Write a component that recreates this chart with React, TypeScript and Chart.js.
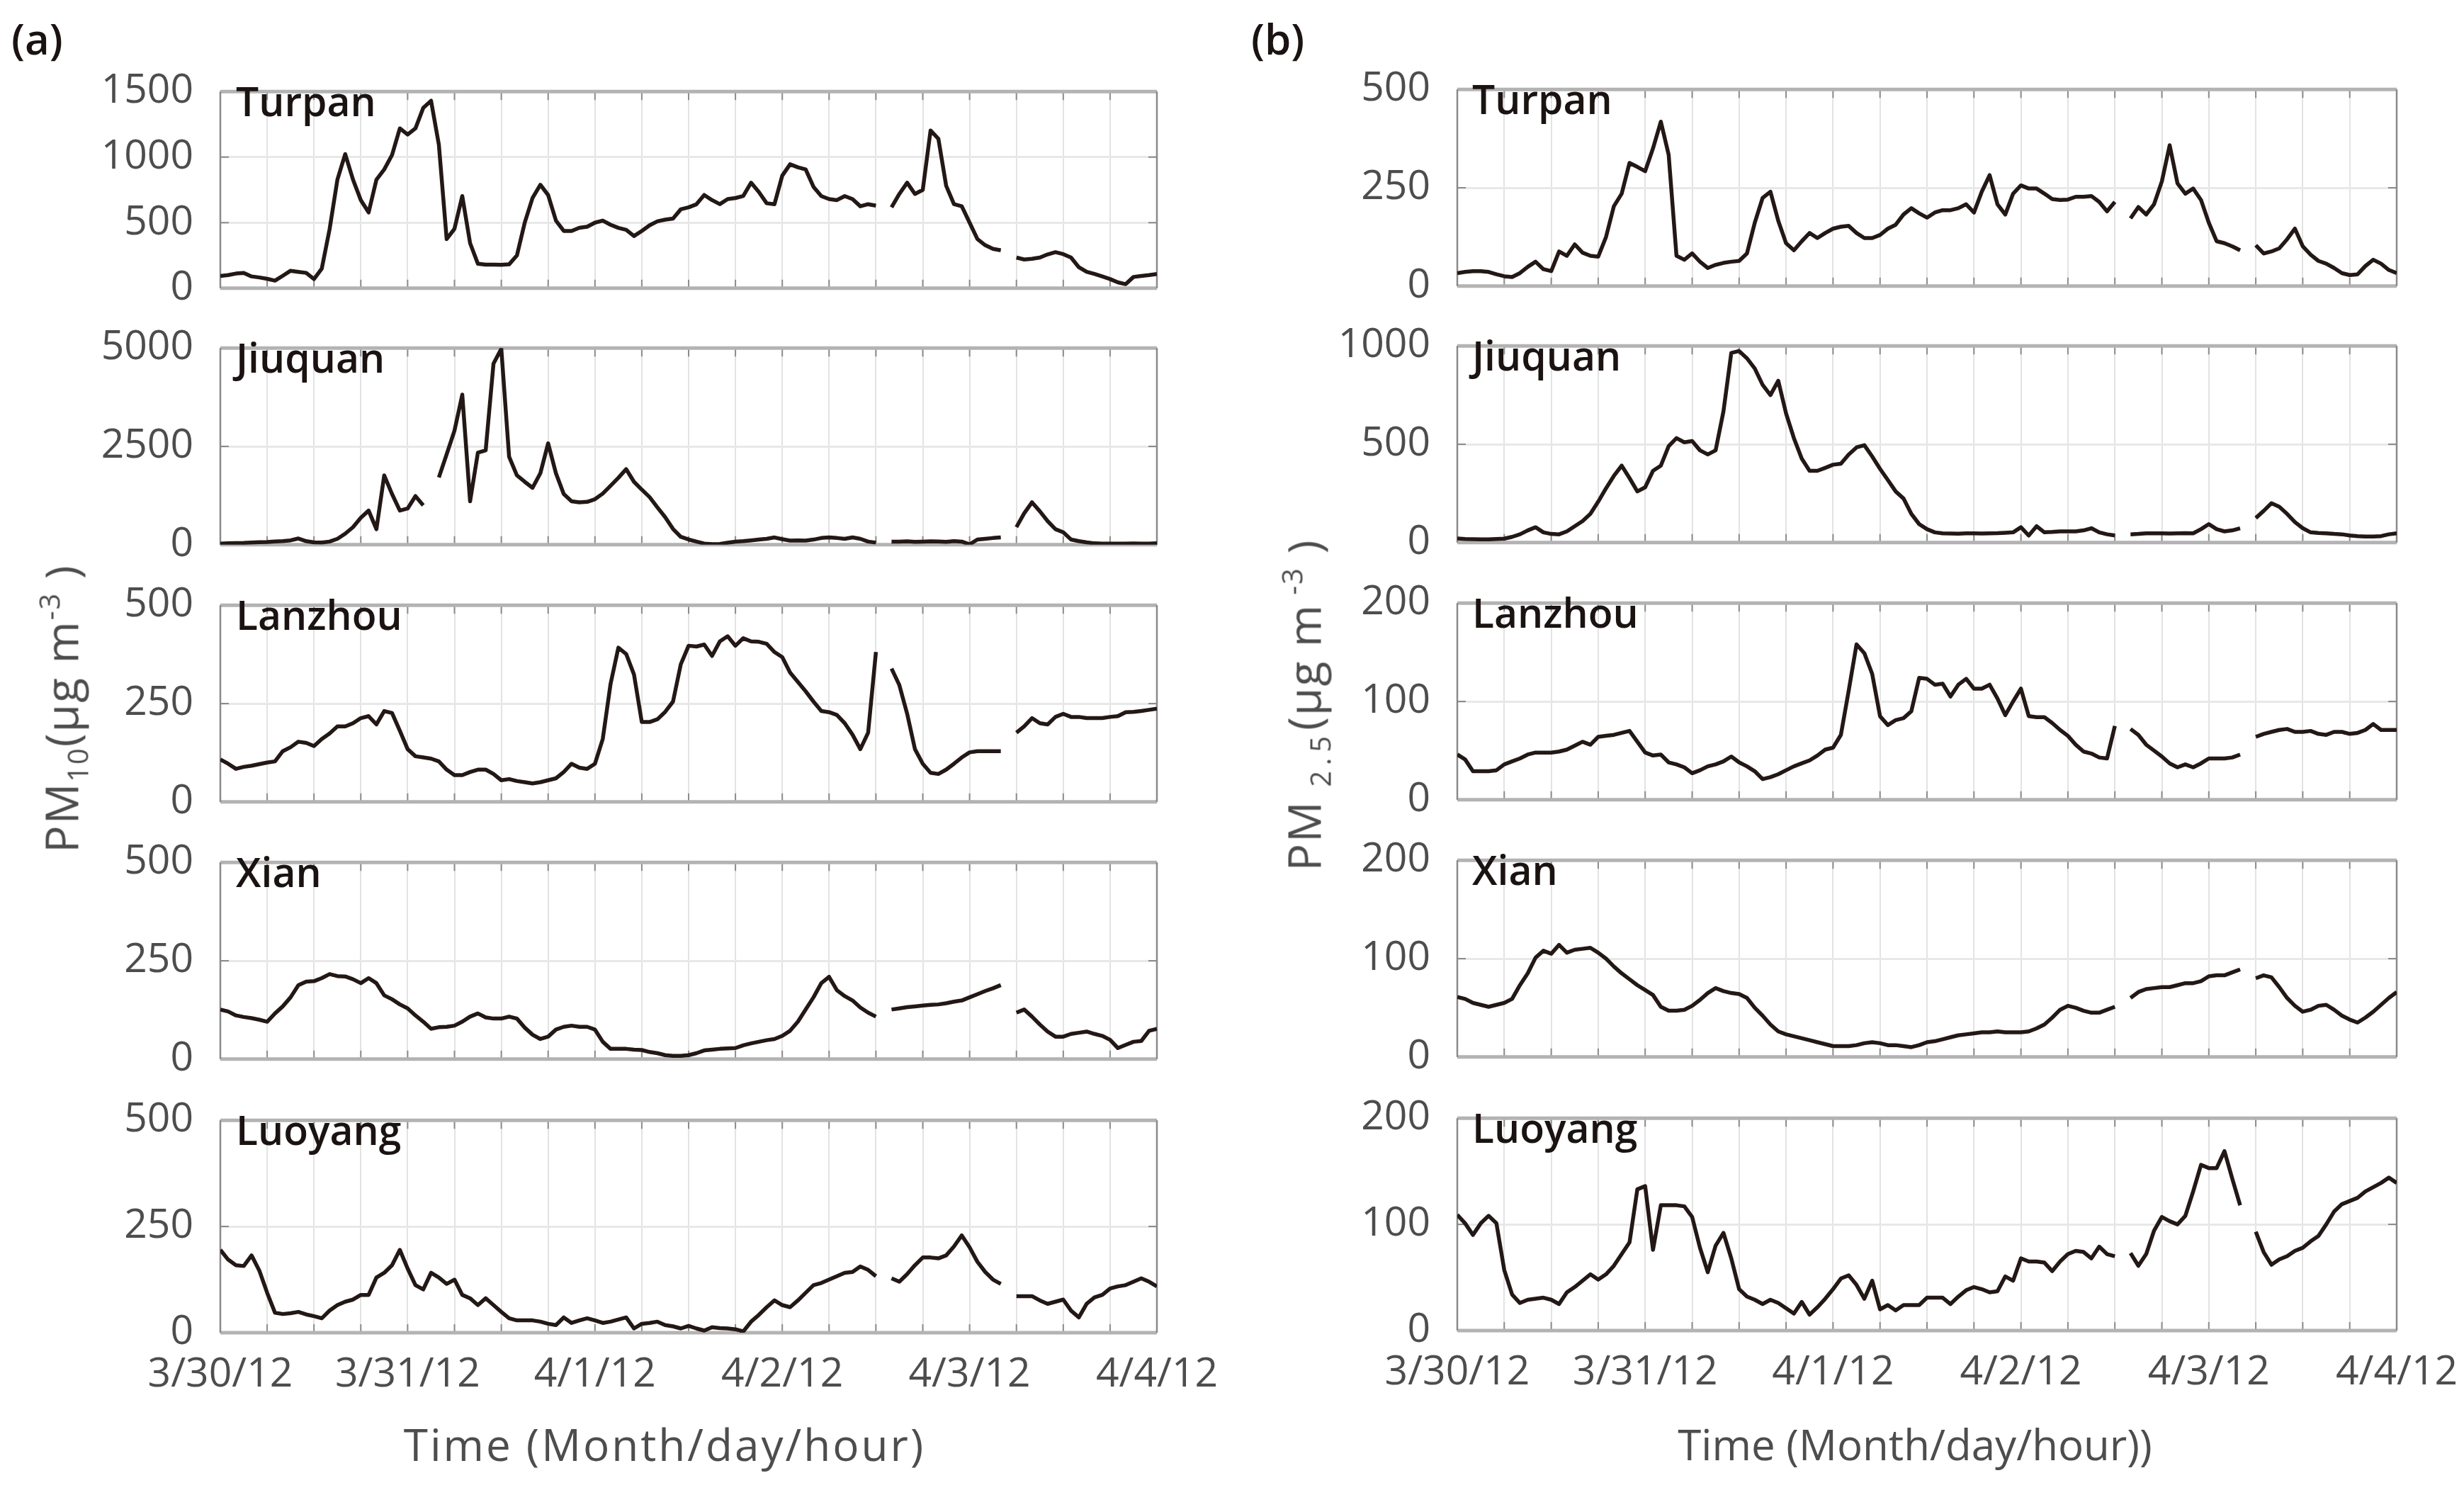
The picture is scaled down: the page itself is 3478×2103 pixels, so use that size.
import React, { useEffect, useRef } from 'react';
import { Chart, registerables } from 'chart.js';

Chart.register(...registerables);

const FONT = "'Open Sans', 'Noto Sans', sans-serif";

// x positions: hours since 3/30/12 00:00
const HOURS = Array.from({ length: 121 }, (_, i) => i);
const DAY_LABELS = ['3/30/12', '3/31/12', '4/1/12', '4/2/12', '4/3/12', '4/4/12'];
const STATIONS = ['Turpan', 'Jiuquan', 'Lanzhou', 'Xian', 'Luoyang'];

// ---------- PM10 (panel a) ----------
const PM10_TURPAN = [94, 100, 112, 117, 90, 82, 72, 58, 95, 133,
  125, 117, 70, 150, 450, 828, 1023, 828, 672, 578,
  828, 906, 1016, 1219, 1172, 1219, 1375, 1430, 1094, 375,
  453, 703, 344, 187, 180, 180, 178, 182, 250, 500,
  688, 789, 711, 516, 437, 437, 461, 469, 500, 516,
  484, 460, 445, 398, 437, 480, 510, 523, 531, 602,
  617, 640, 711, 672, 641, 680, 688, 703, 805, 734,
  648, 641, 859, 945, 922, 906, 773, 703, 680, 672,
  703, 680, 625, 641, 630, null, 617, 719, 805, 719,
  750, 1203, 1140, 781, 641, 625, 500, 375, 328, 300,
  289, null, 234, 219, 225, 234, 258, 275, 260, 234,
  160, 125, 109, 90, 70, 45, 31, 86, 94, 100,
  109];
const PM10_JIUQUAN = [30, 35, 40, 45, 55, 65, 70, 80, 90, 110,
  158, 90, 60, 55, 80, 150, 280, 447, 684, 868,
  395, 1762, 1289, 868, 921, 1236, 1000, null, 1710, 2300,
  2900, 3814, 1105, 2341, 2400, 4603, 4980, 2236, 1762, 1600,
  1447, 1815, 2577, 1815, 1289, 1105, 1078, 1090, 1157, 1300,
  1499, 1700, 1920, 1600, 1400, 1210, 950, 700, 400, 200,
  132, 80, 30, 15, 20, 50, 79, 90, 110, 132,
  150, 184, 140, 105, 110, 105, 130, 170, 184, 170,
  150, 184, 150, 80, 53, null, 79, 79, 85, 75,
  79, 85, 80, 75, 90, 79, 10, 132, 150, 170,
  184, null, 447, 800, 1078, 850, 600, 395, 316, 132,
  90, 60, 35, 30, 30, 28, 30, 32, 30, 30,
  35];
const PM10_LANZHOU = [108, 97, 84, 89, 92, 96, 100, 103, 129, 139,
  153, 150, 142, 160, 174, 192, 192, 200, 213, 218,
  197, 231, 226, 181, 134, 116, 113, 110, 103, 82,
  68, 68, 76, 82, 82, 71, 55, 58, 53, 50,
  47, 50, 55, 60, 76, 97, 87, 84, 97, 160,
  300, 392, 376, 324, 203, 203, 210, 229, 255, 350,
  397, 395, 400, 371, 408, 421, 397, 416, 408, 407,
  402, 381, 368, 329, 305, 281, 255, 231, 228, 221,
  200, 171, 134, 176, 381, null, 339, 297, 224, 134,
  97, 74, 71, 82, 97, 113, 126, 129, 129, 129,
  129, null, 176, 192, 213, 200, 197, 216, 224, 216,
  216, 213, 213, 213, 216, 218, 228, 229, 231, 234,
  237];
const PM10_XIAN = [126, 121, 111, 107, 104, 100, 95, 116, 134, 157,
  188, 197, 198, 206, 216, 211, 210, 203, 193, 206,
  193, 162, 152, 139, 129, 111, 95, 77, 81, 82,
  85, 95, 108, 116, 106, 103, 103, 108, 103, 80,
  62, 51, 57, 75, 82, 85, 82, 82, 75, 44,
  26, 26, 26, 24, 23, 18, 15, 10, 8, 8,
  10, 15, 22, 24, 26, 27, 28, 35, 40, 44,
  48, 51, 59, 72, 95, 126, 157, 193, 209, 175,
  160, 149, 131, 118, 108, null, 126, 129, 132, 134,
  136, 138, 139, 142, 146, 149, 157, 165, 173, 180,
  188, null, 118, 126, 108, 88, 70, 57, 57, 64,
  67, 70, 64, 59, 49, 28, 36, 44, 46, 72,
  77];
const PM10_LUOYANG = [195, 172, 159, 157, 182, 146, 94, 47, 44, 46,
  49, 43, 39, 34, 52, 65, 73, 78, 89, 89,
  130, 141, 159, 195, 151, 112, 102, 141, 130, 115,
  125, 89, 81, 65, 81, 65, 49, 34, 29, 29,
  29, 26, 21, 18, 36, 23, 29, 34, 29, 23,
  26, 31, 36, 10, 21, 23, 26, 18, 15, 10,
  16, 10, 5, 13, 11, 10, 8, 3, 26, 42,
  60, 76, 65, 60, 76, 94, 112, 117, 125, 133,
  141, 143, 156, 148, 133, null, 128, 120, 138, 159,
  177, 177, 175, 182, 203, 229, 201, 167, 143, 125,
  115, null, 86, 86, 86, 76, 68, 73, 78, 52,
  36, 68, 83, 89, 104, 109, 112, 120, 128, 120,
  109];

// ---------- PM2.5 (panel b) ----------
const PM25_TURPAN = [33, 36, 38, 38, 36, 30, 25, 23, 33, 49,
  62, 43, 38, 88, 77, 106, 85, 77, 75, 125,
  203, 235, 313, 303, 292, 350, 418, 334, 77, 67,
  83, 62, 46, 54, 59, 62, 64, 83, 161, 224,
  240, 166, 109, 91, 114, 135, 122, 135, 146, 151,
  153, 135, 122, 122, 130, 146, 156, 182, 198, 185,
  174, 187, 193, 193, 198, 208, 187, 240, 282, 208,
  182, 235, 256, 248, 248, 235, 221, 219, 220, 227,
  227, 229, 214, 190, 214, null, 172, 201, 182, 208,
  266, 358, 261, 235, 248, 219, 161, 114, 109, 101,
  91, null, 104, 83, 88, 96, 119, 146, 101, 80,
  64, 57, 46, 33, 28, 30, 51, 67, 57, 41,
  33];
const PM25_JIUQUAN = [21, 18, 17, 16, 16, 18, 20, 29, 42, 62,
  78, 52, 44, 42, 57, 83, 109, 146, 208, 276,
  339, 391, 328, 260, 281, 365, 391, 490, 531, 510,
  516, 469, 448, 469, 667, 964, 974, 937, 885, 802,
  750, 823, 656, 531, 427, 365, 365, 380, 396, 401,
  448, 484, 495, 438, 375, 318, 260, 224, 146, 94,
  68, 52, 47, 46, 45, 47, 47, 46, 47, 48,
  50, 52, 78, 36, 83, 52, 54, 57, 57, 57,
  62, 73, 52, 42, 36, null, 42, 44, 47, 47,
  47, 46, 47, 48, 47, 68, 94, 68, 57, 62,
  73, null, 125, 161, 200, 182, 146, 104, 73, 52,
  49, 47, 44, 42, 36, 33, 31, 31, 33, 42,
  47];
const PM25_LANZHOU = [46, 41, 29, 29, 29, 30, 36, 39, 42, 46,
  48, 48, 48, 49, 51, 55, 59, 56, 64, 65,
  66, 68, 70, 59, 48, 45, 46, 38, 36, 33,
  27, 30, 34, 36, 39, 44, 38, 34, 29, 21,
  23, 26, 30, 34, 37, 40, 45, 51, 53, 66,
  111, 158, 149, 128, 85, 76, 81, 83, 90, 124,
  123, 117, 118, 105, 117, 123, 113, 113, 117, 103,
  86, 100, 113, 85, 84, 84, 78, 71, 65, 56,
  49, 47, 43, 42, 75, null, 72, 66, 56, 50,
  44, 37, 33, 36, 33, 37, 42, 42, 42, 43,
  46, null, 64, 67, 69, 71, 72, 69, 69, 70,
  67, 66, 69, 69, 67, 68, 71, 77, 71, 71,
  71];
const PM25_XIAN = [61, 59, 55, 53, 51, 53, 55, 59, 73, 85,
  101, 108, 105, 114, 106, 109, 110, 111, 106, 100,
  92, 85, 79, 73, 68, 63, 51, 47, 47, 48,
  52, 58, 65, 70, 67, 65, 64, 60, 50, 42,
  33, 26, 23, 21, 19, 17, 15, 13, 11, 11,
  11, 12, 14, 15, 14, 12, 12, 11, 10, 12,
  15, 16, 18, 20, 22, 23, 24, 25, 25, 26,
  25, 25, 25, 26, 29, 33, 40, 48, 52, 50,
  47, 45, 45, 48, 51, null, 60, 66, 69, 70,
  71, 71, 73, 75, 75, 77, 82, 83, 83, 86,
  89, null, 80, 83, 81, 71, 60, 52, 46, 48,
  52, 53, 48, 42, 38, 35, 40, 46, 53, 60,
  66];
const PM25_LUOYANG = [109, 101, 90, 101, 108, 101, 57, 34, 26, 29,
  30, 31, 29, 25, 36, 41, 47, 53, 48, 53,
  61, 72, 83, 133, 136, 76, 118, 118, 118, 117,
  107, 78, 55, 80, 92, 68, 39, 32, 29, 25,
  29, 26, 21, 16, 27, 15, 22, 30, 39, 49,
  52, 43, 30, 47, 20, 24, 19, 24, 24, 24,
  31, 31, 31, 25, 32, 38, 41, 39, 36, 37,
  51, 47, 68, 65, 65, 64, 56, 65, 72, 75,
  74, 68, 79, 72, 70, null, 73, 61, 72, 94,
  107, 103, 100, 108, 131, 156, 153, 153, 169, 143,
  118, null, 93, 74, 62, 67, 70, 75, 78, 84,
  89, 100, 112, 119, 122, 125, 131, 135, 139, 144,
  139];

const PM10_SERIES = [PM10_TURPAN, PM10_JIUQUAN, PM10_LANZHOU, PM10_XIAN, PM10_LUOYANG];
const PM25_SERIES = [PM25_TURPAN, PM25_JIUQUAN, PM25_LANZHOU, PM25_XIAN, PM25_LUOYANG];
const PM10_MAX = [1500, 5000, 500, 500, 500];
const PM10_STEP = [500, 2500, 250, 250, 250];
const PM25_MAX = [500, 1000, 200, 200, 200];
const PM25_STEP = [250, 500, 100, 100, 100];

// ---------- layout (page pixels) ----------
const LEFT_BOX_X = 311;
const RIGHT_BOX_X = 2057;
const LEFT_BOX_W = 1322;
const RIGHT_BOX_W = 1326;
const BOX_H = 322;
const LEFT_TOPS = [107, 469, 832, 1195, 1559];
const RIGHT_TOPS = [104, 466, 829, 1192, 1556];
const PAD_L = 280;
const PAD_R = 120;
const PAD_T = 50;
const PAD_B = 50;
const PAD_B_LAST = 130;

const LINE_COLOR = '#231815';
const TICK_COLOR = '#4d4d4d';

const framePlugin = {
  id: 'frame',
  beforeDatasetsDraw(chart: any) {
    const { ctx, chartArea, scales } = chart;
    const { left, right, top, bottom } = chartArea;
    ctx.save();
    ctx.strokeStyle = '#8c8c8c';
    ctx.lineWidth = 2;
    ctx.beginPath();
    scales.x.ticks.forEach((t: any) => {
      const x = scales.x.getPixelForValue(t.value);
      ctx.moveTo(x, top);
      ctx.lineTo(x, top + 12);
      ctx.moveTo(x, bottom);
      ctx.lineTo(x, bottom - 12);
    });
    scales.y.ticks.forEach((t: any) => {
      const y = scales.y.getPixelForValue(t.value);
      ctx.moveTo(left, y);
      ctx.lineTo(left + 12, y);
      ctx.moveTo(right, y);
      ctx.lineTo(right - 12, y);
    });
    ctx.stroke();
    ctx.strokeStyle = '#b3b3b3';
    ctx.lineWidth = 5;
    ctx.beginPath();
    ctx.moveTo(left, top);
    ctx.lineTo(right, top);
    ctx.moveTo(left, bottom);
    ctx.lineTo(right, bottom);
    ctx.stroke();
    ctx.strokeStyle = '#8a8a8a';
    ctx.lineWidth = 2.5;
    ctx.beginPath();
    ctx.moveTo(left, top);
    ctx.lineTo(left, bottom);
    ctx.moveTo(right, top);
    ctx.lineTo(right, bottom);
    ctx.stroke();
    ctx.restore();
  },
};

type PanelProps = {
  values: (number | null)[];
  yMax: number;
  yStep: number;
  showX: boolean;
  boxLeft: number;
  boxTop: number;
  boxW: number;
};

function Panel({ values, yMax, yStep, showX, boxLeft, boxTop, boxW }: PanelProps) {
  const ref = useRef<HTMLCanvasElement>(null);
  const padB = showX ? PAD_B_LAST : PAD_B;
  const W = PAD_L + boxW + PAD_R;
  const H = PAD_T + BOX_H + padB;

  useEffect(() => {
    const chart = new Chart(ref.current as HTMLCanvasElement, {
      type: 'line',
      data: {
        datasets: [
          {
            data: HOURS.map((h, i) => ({ x: h, y: values[i] })) as any,
            borderColor: LINE_COLOR,
            borderWidth: 5.5,
            pointRadius: 0,
            spanGaps: false,
            tension: 0,
            fill: false,
            borderJoinStyle: 'round',
            borderCapStyle: 'butt',
          },
        ],
      },
      options: {
        responsive: false,
        animation: false,
        devicePixelRatio: 1,
        layout: { autoPadding: false, padding: { left: 0, right: PAD_R, top: PAD_T, bottom: 0 } },
        plugins: { legend: { display: false }, tooltip: { enabled: false } },
        scales: {
          x: {
            type: 'linear',
            min: 0,
            max: 120,
            afterFit: (s: any) => {
              s.height = padB;
            },
            border: { display: false },
            grid: { color: '#e3e3e3', lineWidth: 2, drawTicks: false },
            ticks: {
              display: showX,
              stepSize: 6,
              autoSkip: false,
              maxRotation: 0,
              padding: 26,
              color: TICK_COLOR,
              font: { family: FONT, size: 57 },
              callback: (v: any) => (Number(v) % 24 === 0 ? DAY_LABELS[Number(v) / 24] : ''),
            },
          },
          y: {
            min: 0,
            max: yMax,
            afterFit: (s: any) => {
              s.width = PAD_L;
            },
            border: { display: false },
            grid: { color: '#e8e8e8', lineWidth: 3, drawTicks: false },
            ticks: {
              stepSize: yStep,
              autoSkip: false,
              padding: 38,
              color: TICK_COLOR,
              font: { family: FONT, size: 57 },
              callback: (v: any) => String(v),
            },
          },
        },
      } as any,
      plugins: [framePlugin],
    });
    return () => chart.destroy();
  }, []);

  return (
    <canvas
      ref={ref}
      width={W}
      height={H}
      style={{ position: 'absolute', left: boxLeft - PAD_L, top: boxTop - PAD_T, width: W, height: H }}
    />
  );
}

const stationStyle = (left: number, top: number): React.CSSProperties => ({
  position: 'absolute',
  left,
  top,
  fontFamily: FONT,
  fontSize: 57,
  lineHeight: '57px',
  fontWeight: 600,
  color: '#1a1311',
  whiteSpace: 'nowrap',
});

const smallStyle: React.CSSProperties = { fontSize: '0.62em', position: 'relative' };

export default function App() {
  return (
    <div
      style={{
        position: 'absolute',
        left: 0,
        top: 0,
        width: 3478,
        height: 2103,
        background: '#ffffff',
        overflow: 'hidden',
      }}
    >
      {PM10_SERIES.map((vals, i) => (
        <Panel
          key={'a' + i}
          values={vals}
          yMax={PM10_MAX[i]}
          yStep={PM10_STEP[i]}
          showX={i === 4}
          boxLeft={LEFT_BOX_X}
          boxTop={LEFT_TOPS[i]}
          boxW={LEFT_BOX_W}
        />
      ))}
      {PM25_SERIES.map((vals, i) => (
        <Panel
          key={'b' + i}
          values={vals}
          yMax={PM25_MAX[i]}
          yStep={PM25_STEP[i]}
          showX={i === 4}
          boxLeft={RIGHT_BOX_X}
          boxTop={RIGHT_TOPS[i]}
          boxW={RIGHT_BOX_W}
        />
      ))}
      {STATIONS.map((s, i) => (
        <div key={'sa' + i} style={stationStyle(LEFT_BOX_X + 22, LEFT_TOPS[i] + 7)}>
          {s}
        </div>
      ))}
      {STATIONS.map((s, i) => (
        <div key={'sb' + i} style={stationStyle(RIGHT_BOX_X + 21, RIGHT_TOPS[i] + 7)}>
          {s}
        </div>
      ))}
      <div
        style={{ position: 'absolute', left: 16, top: 22, fontFamily: FONT, fontSize: 60, lineHeight: '64px', fontWeight: 600, color: '#1a1311' }}
      >
        (a)
      </div>
      <div
        style={{ position: 'absolute', left: 1766, top: 22, fontFamily: FONT, fontSize: 60, lineHeight: '64px', fontWeight: 600, color: '#1a1311' }}
      >
        (b)
      </div>
      <div
        style={{
          position: 'absolute',
          left: 91,
          top: 1000,
          transform: 'translate(-50%, -50%) rotate(-90deg)',
          fontFamily: FONT,
          fontSize: 64,
          lineHeight: '64px',
          letterSpacing: 2,
          color: TICK_COLOR,
          whiteSpace: 'nowrap',
        }}
      >
        PM<span style={{ ...smallStyle, top: 14 }}>10</span>(µg m<span style={{ ...smallStyle, top: -26 }}>-3</span> )
      </div>
      <div
        style={{
          position: 'absolute',
          left: 1845,
          top: 995,
          transform: 'translate(-50%, -50%) rotate(-90deg)',
          fontFamily: FONT,
          fontSize: 64,
          lineHeight: '64px',
          letterSpacing: 2,
          color: TICK_COLOR,
          whiteSpace: 'nowrap',
        }}
      >
        PM <span style={{ ...smallStyle, top: 14, letterSpacing: 8 }}>2.5</span>(µg m<span style={{ ...smallStyle, top: -26 }}> -3</span> )
      </div>
      <div
        style={{
          position: 'absolute',
          left: 938,
          top: 2038,
          transform: 'translate(-50%, -50%)',
          fontFamily: FONT,
          fontSize: 62,
          lineHeight: '70px',
          letterSpacing: 3,
          color: TICK_COLOR,
          whiteSpace: 'nowrap',
        }}
      >
        Time (Month/day/hour)
      </div>
      <div
        style={{
          position: 'absolute',
          left: 2703,
          top: 2038,
          transform: 'translate(-50%, -50%)',
          fontFamily: FONT,
          fontSize: 60,
          lineHeight: '70px',
          color: TICK_COLOR,
          whiteSpace: 'nowrap',
        }}
      >
        Time (Month/day/hour))
      </div>
    </div>
  );
}
